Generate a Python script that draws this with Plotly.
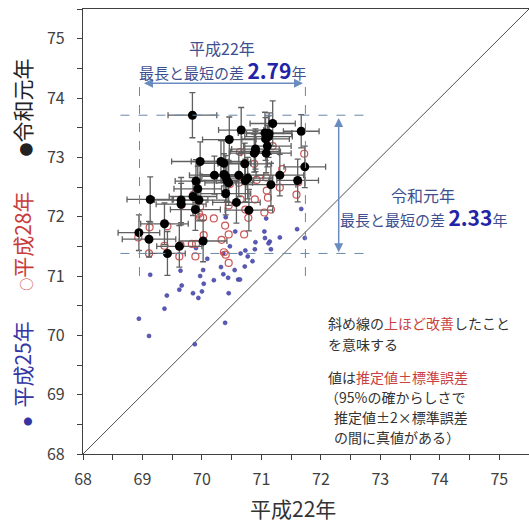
import plotly.graph_objects as go

FONT = "Noto Sans CJK JP"

# 平成22年 (x) vs 令和元年 (y) with error bars
r1_x = [69.84, 68.94, 69.11, 69.13, 69.37, 69.42, 69.62, 69.65, 69.65, 69.85,
        69.89, 69.90, 69.93, 69.95, 69.97, 70.02, 70.21, 70.32, 70.37, 70.37,
        70.40, 70.42, 70.45, 70.46, 70.58, 70.62, 70.66, 70.72, 70.73, 70.77,
        70.79, 70.88, 70.90, 71.06, 71.07, 71.08, 71.10, 71.13, 71.16, 71.19,
        71.31, 71.61, 71.67, 71.73, 70.40, 70.90, 71.12]
r1_y = [73.71, 71.73, 71.62, 72.29, 71.88, 71.38, 71.50, 72.28, 72.21, 72.34,
        72.12, 72.60, 72.47, 72.28, 72.93, 71.59, 72.70, 72.93, 72.90, 72.71,
        72.39, 72.61, 72.57, 73.30, 72.24, 72.70, 73.46, 72.89, 72.61, 72.65,
        72.11, 73.07, 73.14, 73.41, 73.31, 73.07, 73.19, 73.40, 72.54, 73.57,
        72.70, 72.61, 73.44, 72.84, 72.68, 73.10, 73.35]
r1_ex = [0.41, 0.35, 0.45, 0.39, 0.40, 0.30, 0.38, 0.45, 0.42, 0.40,
         0.42, 0.35, 0.40, 0.45, 0.48, 0.40, 0.42, 0.50, 0.45, 0.40,
         0.42, 0.45, 0.40, 0.45, 0.40, 0.42, 0.38, 0.45, 0.40, 0.42,
         0.40, 0.42, 0.40, 0.45, 0.40, 0.42, 0.40, 0.38, 0.42, 0.38,
         0.40, 0.35, 0.30, 0.35, 0.40, 0.42, 0.40]
r1_ey = [0.38, 0.30, 0.30, 0.38, 0.35, 0.37, 0.35, 0.38, 0.35, 0.32,
         0.35, 0.36, 0.38, 0.35, 0.33, 0.35, 0.32, 0.35, 0.38, 0.35,
         0.36, 0.35, 0.38, 0.38, 0.35, 0.36, 0.38, 0.35, 0.36, 0.35,
         0.35, 0.32, 0.34, 0.35, 0.36, 0.33, 0.35, 0.35, 0.36, 0.38,
         0.35, 0.36, 0.28, 0.35, 0.35, 0.34, 0.35]

# 平成28年
h28_x = [68.93, 69.12, 69.11, 69.37, 69.42, 69.62, 69.64, 69.83, 69.89, 69.90,
         69.86, 69.95, 69.97, 70.02, 70.03, 70.20, 70.33, 70.37, 70.40, 70.39,
         70.45, 70.45, 70.45, 70.62, 70.65, 70.71, 70.73, 70.78, 70.89, 70.88,
         70.64, 71.08, 71.09, 71.11, 71.05, 71.16, 71.19, 71.31, 71.59, 71.72,
         70.72, 71.62, 69.97, 70.47, 70.92, 69.66, 71.35]
h28_y = [71.65, 71.82, 71.38, 71.51, 71.84, 71.33, 71.52, 71.54, 71.33, 71.54,
         72.37, 72.05, 71.99, 71.98, 71.69, 71.97, 71.61, 71.40, 71.36, 71.85,
         71.70, 71.22, 72.19, 72.57, 72.29, 71.70, 72.12, 71.98, 72.29, 72.89,
         73.09, 72.66, 72.44, 72.32, 72.07, 72.12, 73.19, 72.49, 72.37, 73.06,
         72.60, 72.58, 72.17, 72.55, 72.62, 72.20, 72.80]

# 平成25年
h25_x = [68.94, 69.11, 69.13, 69.37, 69.41, 69.62, 69.66, 69.64, 69.85, 69.88,
         69.94, 70.00, 70.03, 70.02, 69.90, 70.20, 70.32, 70.36, 70.44, 70.45,
         70.39, 70.36, 70.40, 70.56, 70.61, 70.64, 70.72, 70.65, 70.77, 70.73,
         70.89, 70.90, 71.05, 71.06, 71.14, 71.16, 71.08, 71.31, 71.60, 71.67,
         71.73, 70.09, 69.97, 70.47, 70.85, 71.12, 70.55]
h25_y = [70.28, 69.99, 71.02, 70.45, 70.67, 70.77, 70.84, 71.09, 70.71, 69.85,
         70.63, 70.74, 70.87, 71.10, 71.47, 70.93, 71.15, 71.03, 70.97, 70.71,
         70.21, 71.38, 71.99, 71.75, 70.94, 70.94, 71.16, 71.38, 71.33, 71.43,
         71.45, 71.57, 71.75, 71.64, 71.58, 71.45, 71.97, 71.65, 71.79, 72.13,
         71.64, 71.29, 71.00, 71.50, 71.25, 71.55, 71.10]

ticks = [68, 69, 70, 71, 72, 73, 74, 75]

fig = go.Figure()
fig.add_trace(go.Scatter(x=h25_x, y=h25_y, mode="markers",
                         marker=dict(size=4, color="#5a5ab8", line=dict(width=0.6, color="#3a3a98")),
                         showlegend=False))
fig.add_trace(go.Scatter(x=h28_x, y=h28_y, mode="markers",
                         marker=dict(size=7, color="#cc5555", symbol="circle-open",
                                     line=dict(width=1.2)),
                         showlegend=False))
fig.add_trace(go.Scatter(x=r1_x, y=r1_y, mode="markers",
                         marker=dict(size=9, color="#000000"),
                         error_x=dict(type="data", array=r1_ex, color="#606060", thickness=1.3, width=3),
                         error_y=dict(type="data", array=r1_ey, color="#606060", thickness=1.3, width=3),
                         showlegend=False))

line_c = "#6a88a8"
shapes = [
    dict(type="line", xref="x", yref="y", x0=68, y0=68, x1=75.5, y1=75.5,
         line=dict(color="#505050", width=1), layer="below"),
    dict(type="line", xref="x", yref="y", x0=68.95, y0=71.0, x1=68.95, y1=74.27,
         line=dict(color=line_c, width=1, dash="dash")),
    dict(type="line", xref="x", yref="y", x0=71.74, y0=71.0, x1=71.74, y1=74.27,
         line=dict(color=line_c, width=1, dash="dash")),
    dict(type="line", xref="x", yref="y", x0=68.63, y0=73.71, x1=72.72, y1=73.71,
         line=dict(color=line_c, width=1, dash="dash")),
    dict(type="line", xref="x", yref="y", x0=68.63, y0=71.38, x1=72.72, y1=71.38,
         line=dict(color=line_c, width=1, dash="dash")),
]

ann_c = "#3f4f90"
bold_c = "#2323a8"
red_c = "#c84040"
txt_c = "#333333"
NB = "\u00a0"
ytitle = (
    f"<span style='color:#3535a5'><span style='font-size:9px'>●</span>{NB}{NB}平成25年</span>"
    f"　{NB}{NB}"
    f"<span style='color:#c83c3c'><span style='font-size:13px'>○</span>平成28年</span>"
    f"　{NB}{NB}{NB}"
    f"<span style='color:#222222'><span style='font-size:14px'>●</span>令和元年</span>"
)
annotations = [
    # arrows
    dict(x=71.70, y=74.25, ax=69.00, ay=74.25, xref="x", yref="y", axref="x", ayref="y",
         text="", showarrow=True, arrowhead=2, startarrowhead=2, arrowside="end+start",
         arrowsize=1.2, arrowwidth=1.5, arrowcolor="#6a8cc0"),
    dict(x=72.30, y=71.40, ax=72.30, ay=73.69, xref="x", yref="y", axref="x", ayref="y",
         text="", showarrow=True, arrowhead=2, startarrowhead=2, arrowside="end+start",
         arrowsize=1.2, arrowwidth=1.5, arrowcolor="#6a8cc0"),
    # top label
    dict(x=70.34, y=74.85, xref="x", yref="y", text="平成22年", showarrow=False,
         font=dict(family=FONT, size=16, color=ann_c)),
    dict(x=70.34, y=74.48, xref="x", yref="y", showarrow=False,
         text=f"最長と最短の差 <b><span style='font-size:21px;color:{bold_c}'>2.79</span></b>年",
         font=dict(family=FONT, size=15, color=ann_c)),
    # right label
    dict(x=73.72, y=72.36, xref="x", yref="y", text="令和元年", showarrow=False,
         font=dict(family=FONT, size=16, color=ann_c)),
    dict(x=73.72, y=71.99, xref="x", yref="y", showarrow=False,
         text=f"最長と最短の差 <b><span style='font-size:21px;color:{bold_c}'>2.33</span></b>年",
         font=dict(family=FONT, size=15, color=ann_c)),
    # notes
    dict(x=72.09, y=70.21, xref="x", yref="y", xanchor="left", showarrow=False,
         text=f"斜め線の<span style='color:{red_c}'>上ほど改善</span>したこと",
         font=dict(family=FONT, size=14, color=txt_c)),
    dict(x=72.09, y=69.86, xref="x", yref="y", xanchor="left", showarrow=False,
         text="を意味する", font=dict(family=FONT, size=14, color=txt_c)),
    dict(x=72.09, y=69.30, xref="x", yref="y", xanchor="left", showarrow=False,
         text=f"値は<span style='color:{red_c}'>推定値±標準誤差</span>",
         font=dict(family=FONT, size=14, color=txt_c)),
    dict(x=72.04, y=68.96, xref="x", yref="y", xanchor="left", showarrow=False,
         text="（95%の確からしさで", font=dict(family=FONT, size=14, color=txt_c)),
    dict(x=72.19, y=68.62, xref="x", yref="y", xanchor="left", showarrow=False,
         text="推定値±2×標準誤差", font=dict(family=FONT, size=14, color=txt_c)),
    dict(x=72.19, y=68.29, xref="x", yref="y", xanchor="left", showarrow=False,
         text="の間に真値がある）", font=dict(family=FONT, size=14, color=txt_c)),
    # axis titles
    dict(x=(293 - 83) / 446, y=(454 - 508) / 445, xref="paper", yref="paper", showarrow=False,
         xanchor="center", yanchor="middle",
         text="平成22年", font=dict(family=FONT, size=21, color="#333333")),
    dict(x=(22 - 83) / 446, y=(454 - 242) / 445, xref="paper", yref="paper", showarrow=False,
         xanchor="center", yanchor="middle", textangle=-90,
         text=ytitle, font=dict(family=FONT, size=21, color="#222222")),
]

axis_common = dict(
    range=[68, 75.5], tickvals=ticks, ticktext=[str(t) for t in ticks],
    showgrid=False, zeroline=False, showline=True, linecolor="#404040", linewidth=1.3,
    ticks="outside", ticklen=5, tickcolor="#404040", tickwidth=1,
    minor=dict(dtick=0.5, tick0=68, ticks="outside", ticklen=5, tickcolor="#404040", showgrid=False),
    tickfont=dict(family=FONT, size=16, color="#404040"),
)

fig.update_layout(
    width=529, height=524,
    margin=dict(l=83, r=0, t=9, b=70),
    paper_bgcolor="white", plot_bgcolor="white",
    xaxis=dict(**axis_common, mirror=True, ticklabelstandoff=6),
    yaxis=dict(**axis_common, ticklabelstandoff=9),
    shapes=shapes, annotations=annotations,
    showlegend=False,
)

fig.write_html("out.html")
